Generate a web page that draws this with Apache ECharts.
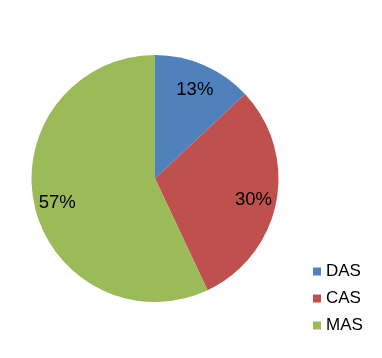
<!DOCTYPE html>
<html><head><meta charset="utf-8">
<script src="https://cdn.jsdelivr.net/npm/echarts@6/dist/echarts.min.js"></script>
<style>html,body{margin:0;padding:0;background:#fff;}#c{width:382px;height:358px;}</style>
</head><body><div id="c"></div>
<script>
const categories = ['DAS', 'CAS', 'MAS'];
const values = [13, 30, 57];
const colors = ['#4F81BD', '#C0504D', '#9BBB59'];

const data = categories.map((n, i) => ({ name: n, value: values[i], itemStyle: { color: colors[i] } }));
const chart = echarts.init(document.getElementById('c'), null, { renderer: 'canvas' });
chart.setOption({
  animation: false,
  backgroundColor: '#ffffff',
  legend: {
    orient: 'vertical',
    left: 313,
    top: 263,
    padding: 0,
    itemWidth: 8,
    itemHeight: 8,
    itemGap: 10,
    icon: 'rect',
    textStyle: { fontFamily: 'Liberation Sans, Arial', fontSize: 17, color: '#000' },
    data: categories
  },
  series: [
    {
      type: 'pie',
      center: [155, 178.5],
      radius: [0, 123.5],
      startAngle: 90,
      clockwise: true,
      label: { show: false },
      labelLine: { show: false },
      itemStyle: { borderWidth: 0 },
      emphasis: { disabled: true },
      data: data
    },
    {
      type: 'pie',
      center: [155, 178.5],
      radius: [71, 123.5],
      startAngle: 90,
      clockwise: true,
      silent: true,
      legendHoverLink: false,
      itemStyle: { color: 'rgba(0,0,0,0)', borderWidth: 0 },
      label: {
        show: true,
        position: 'inside',
        offset: [0, 3],
        formatter: p => p.value + '%',
        fontFamily: 'Liberation Sans, Arial',
        fontSize: 18.5,
        color: '#000'
      },
      labelLine: { show: false },
      emphasis: { disabled: true },
      data: categories.map((n, i) => ({ name: n + ' ', value: values[i] }))
    }
  ]
});
</script></body></html>
